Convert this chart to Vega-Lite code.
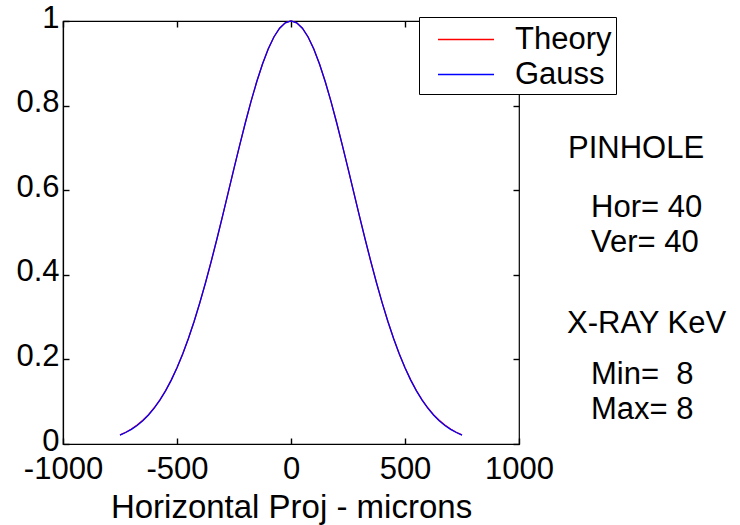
{
  "$schema": "https://vega.github.io/schema/vega-lite/v6.json",
  "width": 456,
  "height": 423,
  "autosize": {"type": "none"},
  "padding": {"left": 63, "top": 21, "right": 221, "bottom": 81},
  "background": "white",
  "config": {
    "font": "Liberation Sans",
    "view": {"stroke": "black", "strokeWidth": 1.2},
    "axis": {
      "grid": false,
      "domainColor": "black",
      "tickColor": "black",
      "labelColor": "black",
      "titleColor": "black",
      "labelFont": "Liberation Sans",
      "titleFont": "Liberation Sans",
      "labelFontSize": 31,
      "titleFontSize": 33,
      "titleFontWeight": "normal",
      "tickSize": -6,
      "tickWidth": 1.4,
      "domainWidth": 1.2
    }
  },
  "resolve": {"axis": {"x": "independent", "y": "independent"}},
  "datasets": {
    "curves": [
      {"x": -750, "Theory": 0.0216, "Gauss": 0.0211},
      {"x": -725, "Theory": 0.0278, "Gauss": 0.0272},
      {"x": -700, "Theory": 0.0354, "Gauss": 0.0347},
      {"x": -675, "Theory": 0.0447, "Gauss": 0.0439},
      {"x": -650, "Theory": 0.0560, "Gauss": 0.0551},
      {"x": -625, "Theory": 0.0695, "Gauss": 0.0686},
      {"x": -600, "Theory": 0.0856, "Gauss": 0.0847},
      {"x": -575, "Theory": 0.1045, "Gauss": 0.1036},
      {"x": -550, "Theory": 0.1264, "Gauss": 0.1256},
      {"x": -525, "Theory": 0.1516, "Gauss": 0.1510},
      {"x": -500, "Theory": 0.1803, "Gauss": 0.1800},
      {"x": -475, "Theory": 0.2128, "Gauss": 0.2128},
      {"x": -450, "Theory": 0.2493, "Gauss": 0.2494},
      {"x": -425, "Theory": 0.2896, "Gauss": 0.2897},
      {"x": -400, "Theory": 0.3336, "Gauss": 0.3338},
      {"x": -375, "Theory": 0.3810, "Gauss": 0.3812},
      {"x": -350, "Theory": 0.4315, "Gauss": 0.4316},
      {"x": -325, "Theory": 0.4845, "Gauss": 0.4846},
      {"x": -300, "Theory": 0.5394, "Gauss": 0.5394},
      {"x": -275, "Theory": 0.5953, "Gauss": 0.5953},
      {"x": -250, "Theory": 0.6514, "Gauss": 0.6514},
      {"x": -225, "Theory": 0.7067, "Gauss": 0.7067},
      {"x": -200, "Theory": 0.7600, "Gauss": 0.7600},
      {"x": -175, "Theory": 0.8105, "Gauss": 0.8105},
      {"x": -150, "Theory": 0.8570, "Gauss": 0.8570},
      {"x": -125, "Theory": 0.8984, "Gauss": 0.8984},
      {"x": -100, "Theory": 0.9337, "Gauss": 0.9337},
      {"x": -75, "Theory": 0.9622, "Gauss": 0.9622},
      {"x": -50, "Theory": 0.9830, "Gauss": 0.9830},
      {"x": -25, "Theory": 0.9957, "Gauss": 0.9957},
      {"x": 0, "Theory": 1.0, "Gauss": 1.0},
      {"x": 25, "Theory": 0.9957, "Gauss": 0.9957},
      {"x": 50, "Theory": 0.9830, "Gauss": 0.9830},
      {"x": 75, "Theory": 0.9622, "Gauss": 0.9622},
      {"x": 100, "Theory": 0.9337, "Gauss": 0.9337},
      {"x": 125, "Theory": 0.8984, "Gauss": 0.8984},
      {"x": 150, "Theory": 0.8570, "Gauss": 0.8570},
      {"x": 175, "Theory": 0.8105, "Gauss": 0.8105},
      {"x": 200, "Theory": 0.7600, "Gauss": 0.7600},
      {"x": 225, "Theory": 0.7067, "Gauss": 0.7067},
      {"x": 250, "Theory": 0.6514, "Gauss": 0.6514},
      {"x": 275, "Theory": 0.5953, "Gauss": 0.5953},
      {"x": 300, "Theory": 0.5394, "Gauss": 0.5394},
      {"x": 325, "Theory": 0.4845, "Gauss": 0.4846},
      {"x": 350, "Theory": 0.4315, "Gauss": 0.4316},
      {"x": 375, "Theory": 0.3810, "Gauss": 0.3812},
      {"x": 400, "Theory": 0.3336, "Gauss": 0.3338},
      {"x": 425, "Theory": 0.2896, "Gauss": 0.2897},
      {"x": 450, "Theory": 0.2493, "Gauss": 0.2494},
      {"x": 475, "Theory": 0.2128, "Gauss": 0.2128},
      {"x": 500, "Theory": 0.1803, "Gauss": 0.1800},
      {"x": 525, "Theory": 0.1516, "Gauss": 0.1510},
      {"x": 550, "Theory": 0.1264, "Gauss": 0.1256},
      {"x": 575, "Theory": 0.1045, "Gauss": 0.1036},
      {"x": 600, "Theory": 0.0856, "Gauss": 0.0847},
      {"x": 625, "Theory": 0.0695, "Gauss": 0.0686},
      {"x": 650, "Theory": 0.0560, "Gauss": 0.0551},
      {"x": 675, "Theory": 0.0447, "Gauss": 0.0439},
      {"x": 700, "Theory": 0.0354, "Gauss": 0.0347},
      {"x": 725, "Theory": 0.0278, "Gauss": 0.0272},
      {"x": 750, "Theory": 0.0216, "Gauss": 0.0211}
    ],
    "notes": [
      {"label": "PINHOLE", "px": 1215, "py": 0.676},
      {"label": "Hor= 40", "px": 1316, "py": 0.537},
      {"label": "Ver= 40", "px": 1316, "py": 0.454},
      {"label": "X-RAY KeV", "px": 1211, "py": 0.263},
      {"label": "Min= \u00a08", "px": 1316, "py": 0.142},
      {"label": "Max= 8", "px": 1316, "py": 0.059}
    ]
  },
  "layer": [
    {
      "data": {"name": "curves"},
      "mark": {"type": "line", "strokeWidth": 1.3, "clip": false},
      "encoding": {
        "x": {
          "field": "x", "type": "quantitative",
          "scale": {"domain": [-1000, 1000], "nice": false},
          "axis": {"values": [-1000, -500, 0, 500, 1000], "labelExpr": "'' + datum.value", "labelPadding": 16, "title": "Horizontal Proj - microns", "titlePadding": 7, "labelFlush": false}
        },
        "y": {
          "field": "Theory", "type": "quantitative",
          "scale": {"domain": [0, 1], "nice": false},
          "axis": {"values": [0, 0.2, 0.4, 0.6, 0.8, 1], "format": "~g", "labelPadding": 10, "labelOffset": -3, "title": null, "labelFlush": false}
        },
        "color": {
          "datum": "Theory",
          "type": "nominal",
          "scale": {"domain": ["Theory", "Gauss"], "range": ["#ff0000", "#0000ff"]},
          "legend": {
            "orient": "none",
            "legendX": 356,
            "legendY": -4,
            "title": null,
            "strokeColor": "black",
            "fillColor": "white",
            "padding": 4,
            "symbolType": "M-0.2,0H3",
            "symbolSize": 1225,
            "symbolStrokeWidth": 1.5,
            "labelFontSize": 31,
            "labelFont": "Liberation Sans",
            "labelColor": "black",
            "labelOffset": 55,
            "labelExpr": "datum.label + '\u00a0\u00a0'",
            "rowPadding": 1
          }
        }
      }
    },
    {
      "data": {"name": "curves"},
      "mark": {"type": "line", "strokeWidth": 1.3, "clip": false},
      "encoding": {
        "x": {"field": "x", "type": "quantitative", "scale": {"domain": [-1000, 1000], "nice": false}, "axis": null},
        "y": {"field": "Gauss", "type": "quantitative", "scale": {"domain": [0, 1], "nice": false}, "axis": null},
        "color": {"datum": "Gauss", "type": "nominal"}
      }
    },
    {
      "data": {"name": "notes"},
      "mark": {"type": "text", "align": "left", "baseline": "alphabetic", "fontSize": 31, "font": "Liberation Sans", "color": "black", "clip": false},
      "encoding": {
        "x": {"field": "px", "type": "quantitative", "scale": {"domain": [-1000, 1000], "nice": false},
          "axis": {"orient": "top", "values": [-1000, -500, 0, 500, 1000], "labels": false, "title": null, "domain": false}},
        "y": {"field": "py", "type": "quantitative", "scale": {"domain": [0, 1], "nice": false},
          "axis": {"orient": "right", "values": [0, 0.2, 0.4, 0.6, 0.8, 1], "labels": false, "title": null, "domain": false}},
        "text": {"field": "label"}
      }
    }
  ]
}
